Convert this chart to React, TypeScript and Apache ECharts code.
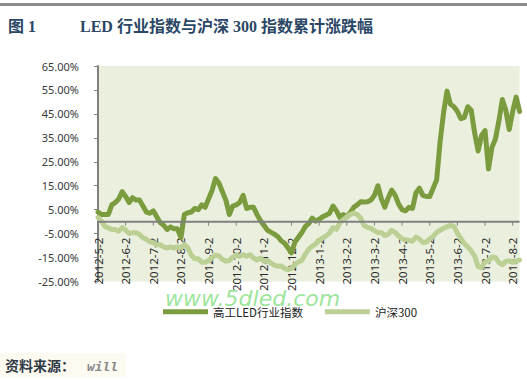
import React, { useEffect, useRef } from "react";
import * as echarts from "echarts";

const monthLabels = [
  "2012-5-2", "2012-6-2", "2012-7-2", "2012-8-2", "2012-9-2", "2012-10-2",
  "2012-11-2", "2012-12-2", "2013-1-2", "2013-2-2", "2013-3-2", "2013-4-2",
  "2013-5-2", "2013-6-2", "2013-7-2", "2013-8-2",
];

const POINTS_PER_MONTH = 8;

const ledIndex = [
  4, 3, 3, 3, 7, 8, 9.5, 12.5, 10.5, 8,
  10, 9, 9, 6.5, 4, 3.5, 4.5, 2, -0.4, -1.5,
  -3.3, -2.2, -3, -3, -6.7, 3, 3.7, 4, 5.5, 5,
  7, 6, 9.5, 13, 18, 16, 12.5, 9, 3, 6.5,
  7, 8, 11, 5.5, 6, 6, 3, 0.5, -1.5, -3.5,
  -4.4, -5.2, -6.2, -8, -9, -11, -13, -8.5, -6.5, -4.5,
  -2, -0.8, 1.5, 0.2, 1, 2, 2.7, 3.5, 6.5, 4.5,
  1.7, 3, 2, 3.8, 6, 7, 8.3, 8.2, 8.3, 9,
  11, 15, 9.5, 6, 10, 13.2, 11, 7.3, 5, 4.5,
  6, 5.5, 12, 14, 11, 10.5, 10.5, 14, 17.5, 33.5,
  45.5, 54.5, 49, 48, 46, 43, 43.5, 48, 46.5, 37,
  29.5, 36, 38, 22, 31, 34.5, 42, 51, 46.5, 38.5,
  46, 52, 46,
];

const hs300 = [
  1.7, 0.3, -2, -2.6, -3.3, -3.3, -4, -2.5, -3.5, -5,
  -4.6, -4.6, -5.3, -6.7, -7.4, -8.4, -8.8, -9.6, -9.6, -10.6,
  -11, -10.6, -11, -10.6, -11, -9.5, -11, -14, -15.5, -15.5,
  -17, -17, -16.3, -15, -14, -14.3, -15.8, -16.5, -16.2, -14.8,
  -14, -14.5, -13.8, -14.5, -13.8, -15.2, -16, -15.2, -16.5, -16.2,
  -17.2, -18.2, -18.6, -18.5, -19.6, -20, -19.5, -17.8, -16.8, -16.2,
  -13.5, -11.5, -10.2, -9.3, -7.8, -6.8, -6, -4.8, -2.5, -3.2,
  -0.4, 0.8, 2, 3, 3.6, 3, 1.5, -1.6, -2.5, -2.8,
  -3.8, -4.5, -4.6, -5.8, -5.2, -3.6, -4.5, -6, -7.2, -7.5,
  -7.8, -8.2, -6.4, -7.2, -8.7, -8.5, -7.2, -6.2, -4.5, -3.6,
  -2.8, -2.1, -1.6, -2, -4.8, -7, -9.2, -10.5, -12.2, -14.4,
  -18.8, -19.2, -16.7, -16.5, -14.8, -15, -17, -18, -16.6, -16.3,
  -17, -16.5, -16,
];

const seriesNames = ["高工LED行业指数", "沪深300"];

const Y_MIN = -25;
const Y_MAX = 65;

const categories = ledIndex.map((_, i) => {
  const m = Math.floor(i / POINTS_PER_MONTH);
  const k = i % POINTS_PER_MONTH;
  return k === 0 ? monthLabels[m] : `${monthLabels[m]}+${k}`;
});

export default function App() {
  const ref = useRef<HTMLDivElement>(null);

  useEffect(() => {
    if (!ref.current) return;
    const chart = echarts.init(ref.current, null, { renderer: "svg" });
    const axisGray = "#808080";
    const gridTop = 66;
    const gridHeight = 215.5;
    const zeroOffset = (gridHeight * (0 - Y_MIN)) / (Y_MAX - Y_MIN);

    const baseGraphics: any[] = [
      { type: "rect", id: "topbar", shape: { x: 0, y: 3, width: 527, height: 3 }, style: { fill: "#8C8C8C" }, silent: true },
      {
        type: "text",
        id: "fig",
        x: 8,
        y: 26,
        style: {
          text: "图 1",
          font: "bold 16px 'Liberation Serif', 'Noto Sans CJK SC'",
          fill: "#2B4766",
          verticalAlign: "middle",
        },
      },
      {
        type: "text",
        id: "title",
        x: 80,
        y: 26,
        style: {
          text: "LED 行业指数与沪深 300 指数累计涨跌幅",
          font: "bold 16px 'Liberation Serif', 'Noto Sans CJK SC'",
          fill: "#2B4766",
          verticalAlign: "middle",
        },
      },
      {
        type: "text",
        id: "watermark",
        x: 165,
        y: 298,
        z: 10,
        style: {
          text: "www.5dled.com",
          font: "italic 22px 'DejaVu Sans'",
          fill: "#8FE28F",
          opacity: 0.9,
          verticalAlign: "middle",
        },
      },
      { type: "rect", id: "srcbg", shape: { x: 0, y: 353, width: 126, height: 24 }, style: { fill: "#FDFBF1" }, silent: true },
      {
        type: "text",
        id: "src",
        x: 5,
        y: 365,
        style: {
          text: "资料来源：",
          font: "bold 14px 'Noto Sans CJK SC'",
          fill: "#2F3A46",
          verticalAlign: "middle",
        },
      },
      {
        type: "text",
        id: "author",
        x: 87,
        y: 366,
        style: {
          text: "will",
          font: "italic bold 13px 'DejaVu Sans Mono'",
          fill: "#8A8A8A",
          verticalAlign: "middle",
        },
      },
    ];

    chart.setOption({
      animation: false,
      backgroundColor: "#ffffff",
      grid: {
        left: 98,
        top: gridTop,
        width: 421.6,
        height: gridHeight,
        show: true,
        backgroundColor: "#EBF0DE",
        borderWidth: 0,
      },
      legend: {
        data: seriesNames,
        left: 158,
        top: 301,
        icon: "rect",
        itemWidth: 45,
        itemHeight: 5,
        itemGap: 22,
        textStyle: {
          fontSize: 11.5,
          color: "#222",
          fontFamily: "Noto Sans CJK SC",
        },
      },
      xAxis: {
        type: "category",
        data: categories,
        boundaryGap: false,
        offset: -zeroOffset,
        axisLine: { show: false },
        axisTick: { show: false },
        axisLabel: {
          interval: POINTS_PER_MONTH - 1,
          rotate: 90,
          margin: 16,
          fontSize: 11.5,
          color: "#2a2a2a",
          fontFamily: "Noto Sans",
        },
        splitLine: { show: false },
      },
      yAxis: {
        type: "value",
        min: Y_MIN,
        max: Y_MAX,
        interval: 10,
        axisLine: { show: true, lineStyle: { color: axisGray, width: 2 } },
        axisTick: { show: true, length: 4, lineStyle: { color: axisGray } },
        axisLabel: {
          formatter: (v: number) => v.toFixed(2) + "%",
          fontSize: 11,
          color: "#3a3a3a",
          margin: 19,
          fontFamily: "Noto Sans",
        },
        splitLine: { show: false },
      },
      series: [
        {
          name: seriesNames[0],
          type: "line",
          data: ledIndex,
          showSymbol: false,
          symbol: "none",
          color: "#7A9B3E",
          lineStyle: { width: 5, color: "#7A9B3E", join: "round", cap: "round" },
          emphasis: { disabled: true },
          z: 2,
        },
        {
          name: seriesNames[1],
          type: "line",
          data: hs300,
          showSymbol: false,
          symbol: "none",
          color: "#BCD096",
          lineStyle: { width: 5, color: "#BCD096", join: "round", cap: "round" },
          emphasis: { disabled: true },
          z: 2,
        },
      ],
      graphic: baseGraphics,
    });

    // Zero-level category axis line and month ticks, placed through the chart's own scales.
    const first = chart.convertToPixel({ gridIndex: 0 }, [0, 0]) as number[];
    const last = chart.convertToPixel({ gridIndex: 0 }, [categories.length - 1, 0]) as number[];
    const axisEls: any[] = [
      {
        type: "line",
        id: "zeroLine",
        silent: true,
        z: 5,
        shape: { x1: first[0], y1: first[1], x2: last[0], y2: last[1] },
        style: { stroke: axisGray, lineWidth: 2 },
      },
    ];
    for (let m = 0; m < monthLabels.length; m++) {
      const p = chart.convertToPixel({ gridIndex: 0 }, [m * POINTS_PER_MONTH, 0]) as number[];
      axisEls.push({
        type: "line",
        id: "tick" + m,
        silent: true,
        z: 5,
        shape: { x1: p[0], y1: p[1], x2: p[0], y2: p[1] + 4 },
        style: { stroke: axisGray, lineWidth: 1 },
      });
    }
    chart.setOption({ graphic: [...baseGraphics, ...axisEls] });

    return () => chart.dispose();
  }, []);

  return (
    <div
      ref={ref}
      style={{ position: "fixed", left: 0, top: 0, width: 527, height: 380, background: "#fff" }}
    />
  );
}
